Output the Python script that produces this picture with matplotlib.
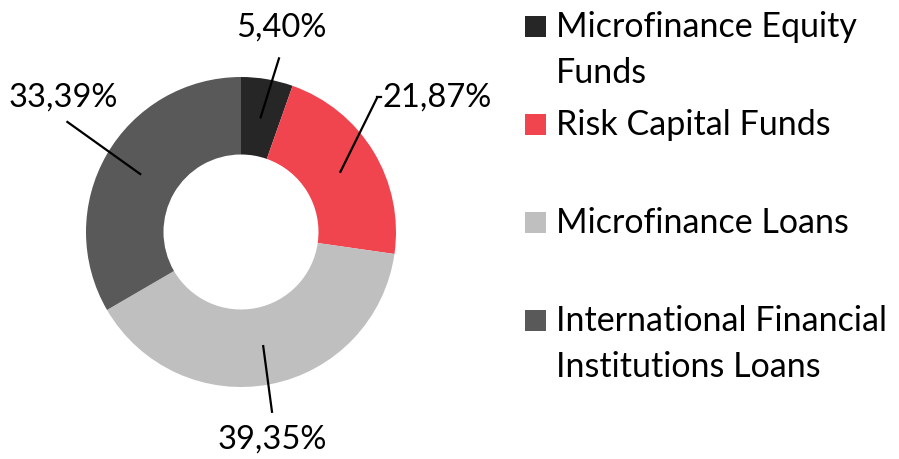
import numpy as np
import matplotlib.pyplot as plt
from matplotlib.patches import Rectangle

plt.rcParams['font.family'] = ['Lato', 'DejaVu Sans']

# shares of the portfolio (%)
categories = ['Microfinance Equity\nFunds', 'Risk Capital Funds',
              'Microfinance Loans', 'International Financial\nInstitutions Loans']
values = [5.40, 21.87, 39.35, 33.39]
pct_labels = ['5,40%', '21,87%', '39,35%', '33,39%']
colors = ['#262626', '#F0444F', '#BFBFBF', '#595959']

W, H = 899, 459
fig = plt.figure(figsize=(W / 100, H / 100), dpi=100)

# donut: centre (241, 232) px, outer radius 155 px
cx, cy, R = 241, 232, 155
ax = fig.add_axes([(cx - R) / W, (H - cy - R) / H, 2 * R / W, 2 * R / H])
wedges, _ = ax.pie(values, colors=colors, startangle=90, counterclock=False,
                   radius=1, wedgeprops=dict(width=0.5, linewidth=0))
ax.set_xlim(-1, 1)
ax.set_ylim(-1, 1)
ax.set_aspect('equal')
ax.axis('off')

# label placement (data units, relative to radius)
line_ends = [(0.245, 1.12), (0.88, 0.87), (0.20, -1.16), (-1.12, 0.71)]
text_pos = [(0.26, 1.32), (0.90, 0.87), (0.20, -1.34), (-1.15, 0.87)]
text_ha = ['center', 'left', 'center', 'center']

for w, lbl, le, tp, ha in zip(wedges, pct_labels, line_ends, text_pos, text_ha):
    ang = np.deg2rad((w.theta1 + w.theta2) / 2)
    start = (0.75 * np.cos(ang), 0.75 * np.sin(ang))
    ax.plot([start[0], le[0]], [start[1], le[1]], color='black', lw=1.6, clip_on=False)
    if ha == 'left':
        ax.plot([le[0], tp[0]], [le[1], le[1]], color='black', lw=1.6, clip_on=False)
        tp = (tp[0] + 0.01, tp[1])
    ax.text(tp[0], tp[1], lbl, ha=ha, va='center', fontsize=23.5, color='black', clip_on=False)

# legend drawn by hand: entries spaced evenly, wrapped lines 46 px apart
leg_x, sq = 525, 21
for i, (cat, col) in enumerate(zip(categories, colors)):
    yc = 26 + 98 * i
    fig.patches.append(Rectangle((leg_x / W, (H - yc - sq / 2) / H), sq / W, sq / H,
                                 transform=fig.transFigure, facecolor=col, edgecolor='none'))
    for j, line in enumerate(cat.split('\n')):
        fig.text(556 / W, (H - yc - 11 - 46 * j) / H, line, ha='left', va='baseline',
                 fontsize=24.5, color='black')

fig.savefig('out.png', dpi=100)
